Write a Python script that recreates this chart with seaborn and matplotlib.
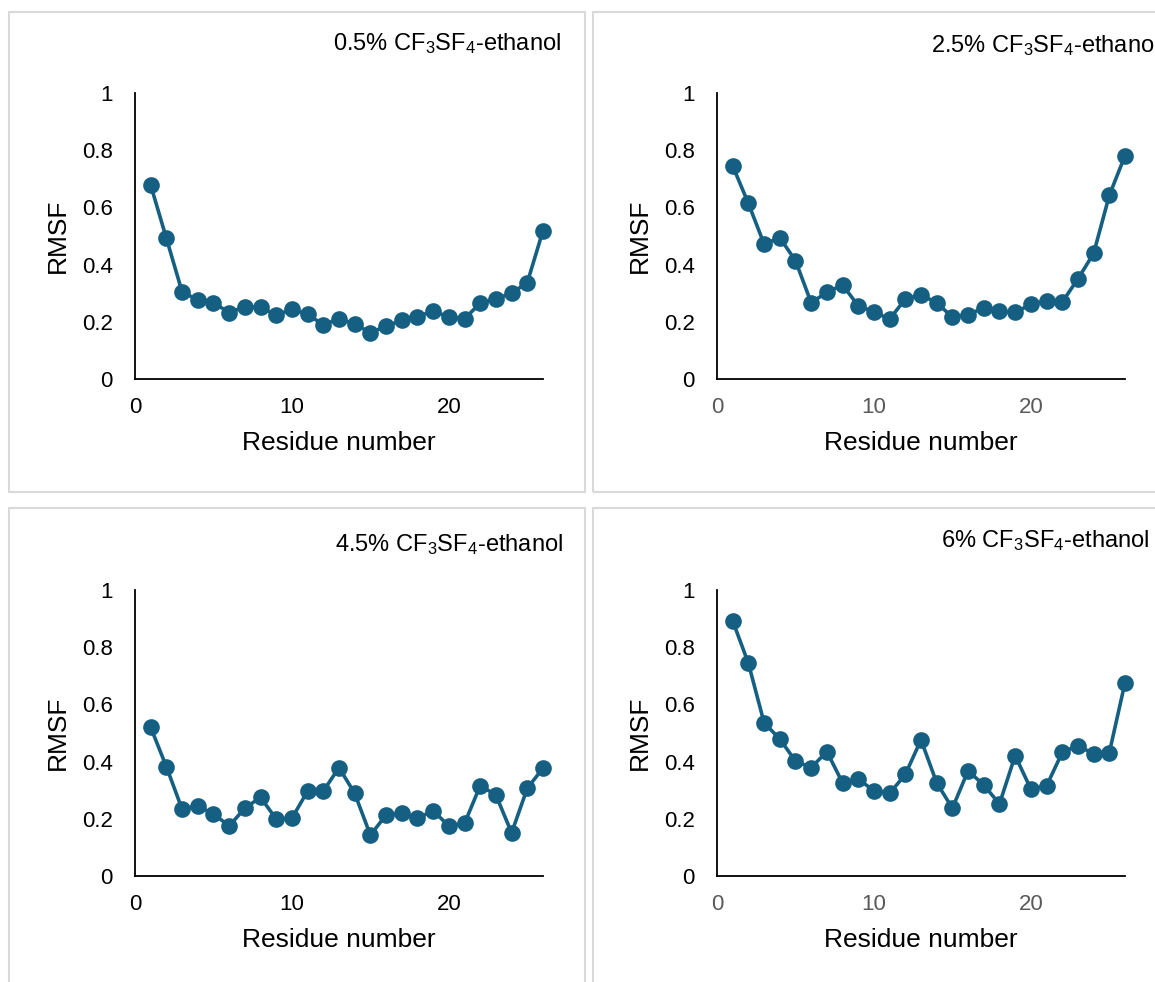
import numpy as np
import pandas as pd
import matplotlib
matplotlib.use("Agg")
import matplotlib.pyplot as plt
from matplotlib.patches import Rectangle
import seaborn as sns

residues = list(range(1, 27))
rmsf_05 = [0.678, 0.492, 0.305, 0.276, 0.267, 0.232, 0.253, 0.251, 0.223, 0.244,
           0.227, 0.189, 0.211, 0.192, 0.162, 0.185, 0.205, 0.218, 0.238, 0.216,
           0.211, 0.265, 0.280, 0.300, 0.337, 0.519]
rmsf_25 = [0.745, 0.614, 0.472, 0.494, 0.414, 0.267, 0.303, 0.329, 0.256, 0.235,
           0.209, 0.280, 0.294, 0.267, 0.216, 0.225, 0.249, 0.237, 0.233, 0.261,
           0.273, 0.269, 0.350, 0.439, 0.642, 0.781]
rmsf_45 = [0.520, 0.382, 0.234, 0.245, 0.217, 0.175, 0.237, 0.275, 0.199, 0.202,
           0.297, 0.297, 0.379, 0.289, 0.143, 0.213, 0.219, 0.202, 0.228, 0.175,
           0.184, 0.316, 0.283, 0.151, 0.307, 0.377]
rmsf_6 = [0.892, 0.744, 0.536, 0.479, 0.402, 0.379, 0.435, 0.326, 0.339, 0.298,
          0.289, 0.355, 0.476, 0.326, 0.237, 0.368, 0.318, 0.252, 0.421, 0.304,
          0.315, 0.432, 0.456, 0.427, 0.431, 0.676]
titles = ["0.5% CF$_{\\mathrm{3}}$SF$_{\\mathrm{4}}$-ethanol",
          "2.5% CF$_{\\mathrm{3}}$SF$_{\\mathrm{4}}$-ethanol",
          "4.5% CF$_{\\mathrm{3}}$SF$_{\\mathrm{4}}$-ethanol",
          "6% CF$_{\\mathrm{3}}$SF$_{\\mathrm{4}}$-ethanol"]
x_ticks = [0, 10, 20]
y_ticks = [0, 0.2, 0.4, 0.6, 0.8, 1.0]
y_ticklabels = ["0", "0.2", "0.4", "0.6", "0.8", "1"]
x_label = "Residue number"
y_label = "RMSF"

sns.set_style("white")
plt.rcParams["font.family"] = ["Liberation Sans", "DejaVu Sans"]
plt.rcParams["mathtext.fontset"] = "custom"
plt.rcParams["mathtext.rm"] = "Liberation Sans"
plt.rcParams["mathtext.it"] = "Liberation Sans:italic"
plt.rcParams["mathtext.bf"] = "Liberation Sans:bold"
plt.rcParams["text.color"] = "black"
plt.rcParams["axes.labelcolor"] = "black"

W, H = 1155, 982
fig = plt.figure(figsize=(W / 100, H / 100), dpi=100)

color = "#156082"
series = [rmsf_05, rmsf_25, rmsf_45, rmsf_6]

# panel geometry in pixels (x0, y_top, x1, y_bottom) of axes
ax_px = [(135, 93, 543, 379), (717, 93, 1125, 379),
         (135, 590, 543, 876), (717, 590, 1125, 876)]
box_px = [(9, 12, 585, 492), (593, 12, 1170, 492),
          (9, 508, 585, 1000), (593, 508, 1170, 1000)]
title_px = [(333, 44), (931, 46), (335, 545), (941, 541)]
tick_colors = ["black", "#595959", "black", "#595959"]

for (bx0, by0, bx1, by1) in box_px:
    fig.patches.append(Rectangle((bx0 / W, 1 - by1 / H), (bx1 - bx0) / W, (by1 - by0) / H,
                                 transform=fig.transFigure, fill=False,
                                 edgecolor="#d9d9d9", linewidth=1.5, zorder=0))

for i, vals in enumerate(series):
    x0, yt, x1, yb = ax_px[i]
    ax = fig.add_axes([x0 / W, 1 - yb / H, (x1 - x0) / W, (yb - yt) / H])
    df = pd.DataFrame({"Residue": residues, "RMSF": vals})
    sns.lineplot(data=df, x="Residue", y="RMSF", ax=ax, color=color, linewidth=2.6,
                 marker="o", markersize=12, markeredgewidth=0, clip_on=False)
    ax.set_xlim(0, 26)
    ax.set_ylim(0, 1)
    ax.set_xticks(x_ticks)
    ax.set_yticks(y_ticks)
    ax.set_yticklabels(y_ticklabels)
    for s in ["top", "right"]:
        ax.spines[s].set_visible(False)
    for s in ["left", "bottom"]:
        ax.spines[s].set_color("black")
        ax.spines[s].set_linewidth(1.3)
    ax.tick_params(axis="both", length=0, labelsize=16)
    ax.tick_params(axis="x", pad=13, labelcolor=tick_colors[i])
    ax.tick_params(axis="y", pad=16, labelcolor="black")
    ax.set_xlabel(x_label, fontsize=19, labelpad=9, color="black")
    ax.set_ylabel(y_label, fontsize=19, labelpad=9, color="black")
    ax.patch.set_alpha(0)
    tx, ty = title_px[i]
    fig.text(tx / W, 1 - ty / H, titles[i], fontsize=17, ha="left", va="center",
             color="black")

fig.savefig("out.png", dpi=100)
